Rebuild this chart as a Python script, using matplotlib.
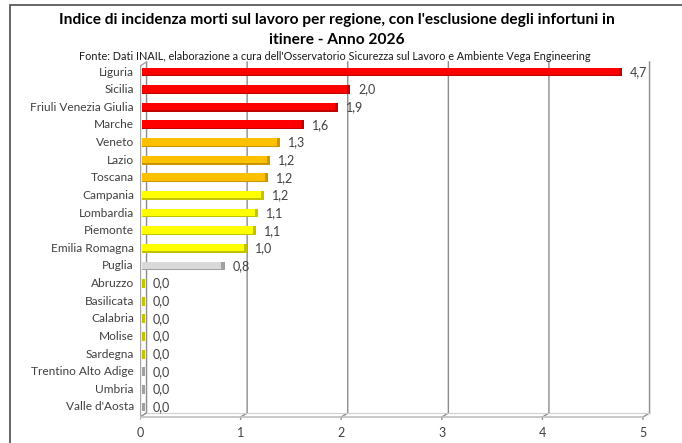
#!/usr/bin/env python3
"""Indice di incidenza morti sul lavoro per regione - bar chart stile Excel 3D."""

import matplotlib.pyplot as plt
from matplotlib.patches import Rectangle

plt.rcParams["font.family"] = ["Lato", "DejaVu Sans"]

regioni = [
    "Liguria", "Sicilia", "Friuli Venezia Giulia", "Marche", "Veneto", "Lazio",
    "Toscana", "Campania", "Lombardia", "Piemonte", "Emilia Romagna", "Puglia",
    "Abruzzo", "Basilicata", "Calabria", "Molise", "Sardegna",
    "Trentino Alto Adige", "Umbria", "Valle d'Aosta",
]
indice = [4.74, 2.04, 1.92, 1.58, 1.34, 1.24, 1.22, 1.18, 1.12, 1.10, 1.01, 0.79,
          0.0, 0.0, 0.0, 0.0, 0.0, 0.0, 0.0, 0.0]
fascia = ["rosso"] * 4 + ["arancio"] * 3 + ["giallo"] * 4 + ["grigio"] \
    + ["giallo"] * 5 + ["grigio"] * 3
x_ticks = [0, 1, 2, 3, 4, 5]

colori = {
    "rosso": ("#ff0000", "#c00000"),
    "arancio": ("#ffc000", "#c99500"),
    "giallo": ("#ffff00", "#c2c200"),
    "grigio": ("#d9d9d9", "#a0a0a0"),
}

title = ("Indice di incidenza morti sul lavoro per regione, con l'esclusione degli infortuni in\n"
         "itinere - Anno 2026")
fonte = ("Fonte: Dati INAIL, elaborazione a cura dell'Osservatorio Sicurezza sul Lavoro "
         "e Ambiente Vega Engineering")

W, H = 682, 443
fig = plt.figure(figsize=(W / 100, H / 100), dpi=100)

# frame like the Excel chart area
fig.add_artist(Rectangle((10 / W, -0.1), 1.2, (H - 5) / H + 0.1, transform=fig.transFigure,
                         fill=False, edgecolor="#5a5a5a", linewidth=1.3))

fig.text(337 / W, 1 - 30 / H, title, ha="center", va="center", fontsize=11.2,
         fontweight="bold", color="#000000", linespacing=1.55)
fig.text(335 / W, 1 - 56 / H, fonte, ha="center", va="center", fontsize=7.8,
         color="#1a1a1a")

ax = fig.add_axes([140 / W, 1 - 425 / H, (660 - 140) / W, 370 / H])
n = len(regioni)
y = list(range(n))
ax.set_xlim(0, (660 - 140) / 100.6)
ax.set_ylim(n - 1 + (425 - 407) / 17.63, -(72 - 55) / 17.63)
ax.axis("off")

dx, dy = 0.065, 0.23
floor = n - 1 + 0.57
top = -0.57
grid_c = "#8c8c8c"

# back wall gridlines + floor
for t in x_ticks:
    ax.plot([t + dx, t + dx, t, t], [top, floor - dy, floor, floor + 0.12],
            color=grid_c, linewidth=1.0, zorder=1)
ax.plot([0, 0], [top + dy, floor], color="#a6a6a6", linewidth=1.0, zorder=1)
ax.plot([0, dx], [top + dy, top], color="#a6a6a6", linewidth=1.0, zorder=1)
ax.plot([x_ticks[0], x_ticks[-1]], [floor, floor], color="#bfbfbf", linewidth=1.2, zorder=1)
ax.plot([dx, x_ticks[-1] + dx], [floor - dy, floor - dy], color="#d0d0d0",
        linewidth=0.8, zorder=1)

for yi, v, f in zip(y, indice, fascia):
    main, dark = colori[f]
    ax.barh(yi, v, height=0.5, left=0.02, color=main, edgecolor="none", zorder=3)
    ax.barh(yi + 0.21, v, height=0.08, left=0.02, color=dark, edgecolor="none", zorder=3)
    ax.barh(yi, 0.03, height=0.5, left=0.02 + v, color=dark, edgecolor="none", zorder=3)
    ax.text(v + 0.13, yi, f"{v:.1f}".replace(".", ","), ha="left", va="center",
            fontsize=9, color="#404040", zorder=4)
    ax.text(-0.06, yi, regioni[yi], ha="right", va="center", fontsize=8.6,
            color="#404040")

for t in x_ticks:
    ax.text(t, floor + 0.9, str(t), ha="center", va="center", fontsize=9,
            color="#404040")

fig.savefig("out.png", dpi=100)
